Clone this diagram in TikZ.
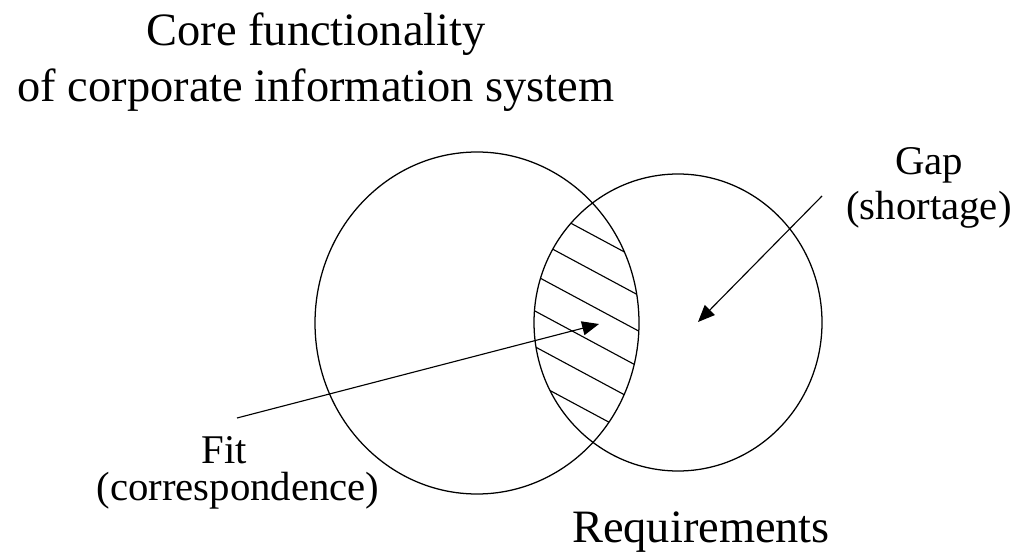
\documentclass[tikz,border=0pt]{standalone}
\usepackage{fontspec}
\setmainfont{Liberation Serif}
\usetikzlibrary{arrows.meta}

\begin{document}
\begin{tikzpicture}[x=0.025cm,y=0.025cm,
  ring/.style={line width=0.9pt},
  pointer/.style={line width=0.8pt,-{Triangle[length=12pt,width=10pt]}},
  big/.style={font=\fontsize{33}{40}\selectfont,anchor=base},
  small/.style={font=\fontsize{29}{34}\selectfont,anchor=base}]
  \useasboundingbox (0,0) rectangle (1016,553);

  % centrele cercurilor
  \coordinate (L) at (477,230);
  \coordinate (R) at (678,230.5);

  % hasura in zona comuna
  \begin{scope}
    \clip (L) ellipse [x radius=162,y radius=171];
    \clip (R) ellipse [x radius=144,y radius=148.5];
    \foreach \k in {0,...,5}
      \draw[line width=0.8pt] (520,{357.1-35.7*\k}) -- ++(140,-75.2);
  \end{scope}

  % cercurile
  \draw[ring] (L) ellipse [x radius=162,y radius=171];
  \draw[ring] (R) ellipse [x radius=144,y radius=148.5];

  % texte
  \node[big] (core) at (316,507) {Core functionality};
  \node[big] (corp) at (316,451) {of corporate information system};
  \node[big] (req) at (701,11) {Requirements};
  \node[small] (gap) at (929,378) {Gap};
  \node[small] (short) at (929,333) {(shortage)};
  \node[small] (fit) at (224,90) {Fit};
  \node[small] (corr) at (238,53) {(correspondence)};

  % sagetile
  \coordinate (fitfrom) at (237,135);
  \coordinate (fitto) at (599,229);
  \coordinate (gapfrom) at (822,357);
  \coordinate (gapto) at (698,231);
  \draw[pointer] (fitfrom) -- (fitto);
  \draw[pointer] (gapfrom) -- (gapto);
\end{tikzpicture}
\end{document}
